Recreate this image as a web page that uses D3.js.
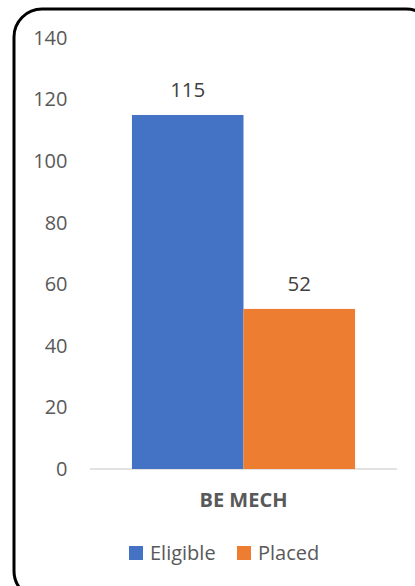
<!DOCTYPE html>
<html><head><meta charset="utf-8">
<script src="https://cdn.jsdelivr.net/npm/d3@7"></script>
<style>html,body{margin:0;padding:0;background:#fff;overflow:hidden}</style>
</head><body>
<svg id="chart" width="415" height="586"></svg>
<script>
const categories = ["BE MECH"];
const seriesNames = ["Eligible", "Placed"];
const eligible = [115];
const placed = [52];
const yTicks = [0, 20, 40, 60, 80, 100, 120, 140];
const colors = ["#4472C4", "#ED7D31"];

const svg = d3.select("#chart");
const font = "'Open Sans', 'Liberation Sans', sans-serif";
const textColor = "#595959";

// border
svg.append("rect").attr("x", 14).attr("y", 9).attr("width", 420).attr("height", 590)
  .attr("rx", 28).attr("ry", 28).attr("fill", "#fff").attr("stroke", "#000").attr("stroke-width", 3);

const plotLeft = 90, plotRight = 397;
const y = d3.scaleLinear().domain([0, 140]).range([469, 38]);
const x0 = d3.scaleBand().domain(categories).range([plotLeft, plotRight]).paddingInner(0).paddingOuter(0.188);
const x1 = d3.scaleBand().domain(seriesNames).range([0, x0.bandwidth()]);

// y tick labels
const yAxis = d3.axisLeft(y).tickValues(yTicks).tickSize(0).tickPadding(0);
const gy = svg.append("g").attr("transform", "translate(67.5,0)").call(yAxis);
gy.select(".domain").remove();
gy.selectAll("text").attr("font-family", font).attr("font-size", 20).attr("fill", textColor);

// baseline
svg.append("line").attr("x1", plotLeft).attr("x2", plotRight).attr("y1", y(0)).attr("y2", y(0))
  .attr("stroke", "#D9D9D9").attr("stroke-width", 1.5);

const rows = categories.map((c, i) => ({cat: c, vals: [eligible[i], placed[i]]}));
const g = svg.selectAll("g.cat").data(rows).enter().append("g").attr("class", "cat")
  .attr("transform", d => `translate(${x0(d.cat)},0)`);
g.selectAll("rect").data(d => d.vals.map((v, j) => ({name: seriesNames[j], v, j})))
  .enter().append("rect")
  .attr("x", d => x1(d.name)).attr("width", x1.bandwidth())
  .attr("y", d => y(d.v)).attr("height", d => y(0) - y(d.v))
  .attr("fill", d => colors[d.j]);
g.selectAll("text.val").data(d => d.vals.map((v, j) => ({name: seriesNames[j], v, j})))
  .enter().append("text").attr("class", "val")
  .attr("x", d => x1(d.name) + x1.bandwidth() / 2).attr("y", d => y(d.v) - 25)
  .attr("dy", "0.35em").attr("text-anchor", "middle")
  .attr("font-family", font).attr("font-size", 20.5).attr("fill", "#404040")
  .text(d => d.v);

// category axis labels
const xAxis = d3.axisBottom(x0).tickSize(0).tickPadding(0);
const gx = svg.append("g").attr("transform", "translate(0,500)").call(xAxis);
gx.select(".domain").remove();
gx.selectAll("text").attr("dy", "0.35em").attr("font-family", font).attr("font-size", 20)
  .attr("font-weight", "bold").attr("fill", textColor);

// legend
const legendX = [129, 237];
const lg = svg.selectAll("g.leg").data(seriesNames).enter().append("g").attr("class", "leg")
  .attr("transform", (d, i) => `translate(${legendX[i]},553)`);
lg.append("rect").attr("x", 0).attr("y", -7).attr("width", 14).attr("height", 14).attr("fill", (d, i) => colors[i]);
lg.append("text").attr("x", 21).attr("y", 0).attr("dy", "0.35em")
  .attr("font-family", font).attr("font-size", 20).attr("fill", textColor).text(d => d);
</script>
</body></html>
